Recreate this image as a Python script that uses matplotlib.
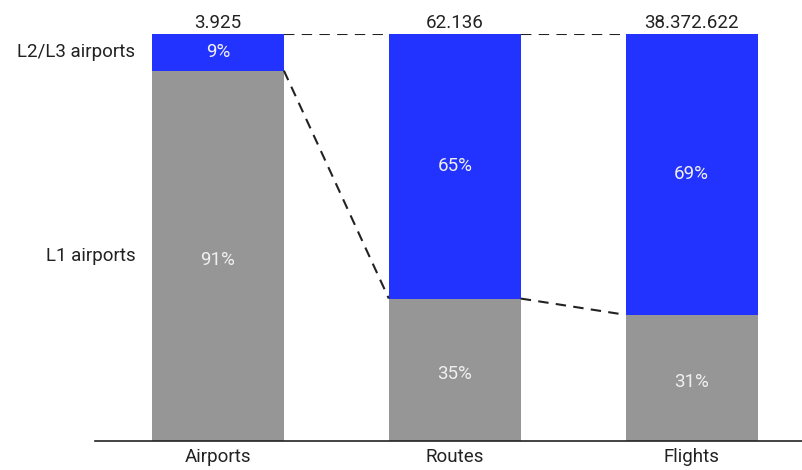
import matplotlib.pyplot as plt

plt.rcParams['font.family'] = ['Roboto', 'DejaVu Sans']

categories = ["Airports", "Routes", "Flights"]
totals = [3925, 62136, 38372622]
l1_pct = [91, 35, 31]
l23_pct = [9, 65, 69]
row_labels = ["L2/L3 airports", "L1 airports"]

gray = "#969696"
blue = "#2233ff"
width = 0.557
fs = 13.5

fig = plt.figure(figsize=(8.02, 4.70), dpi=100)
ax = fig.add_axes([95 / 802, 1 - 441 / 470, 1 - 95 / 802, (441 - 34) / 470])

x = list(range(len(categories)))
low = [p / 100 for p in l1_pct]
high = [p / 100 for p in l23_pct]
ax.bar(x, low, width, color=gray)
ax.bar(x, high, width, bottom=low, color=blue)

for i in x:
    ax.text(i, low[i] / 2 - 0.01, f"{l1_pct[i]}%", ha="center", va="center",
            color="#f0f0f0", fontsize=fs)
    ax.text(i, low[i] + high[i] / 2, f"{l23_pct[i]}%", ha="center", va="center",
            color="#f0f0f0", fontsize=fs)
    ax.text(i, 1.005, f"{totals[i]:,}".replace(",", "."), ha="center", va="bottom",
            color="#222222", fontsize=fs)

# dashed connectors between neighbouring bars
for i in range(len(x) - 1):
    x0, x1 = x[i] + width / 2, x[i + 1] - width / 2
    ax.plot([x0, x1], [low[i], low[i + 1]], ls=(0, (5, 3.5)), color="#222222", lw=1.5)
    ax.plot([x0, x1], [1, 1], ls=(0, (5, 3.5)), color="#222222", lw=1.5)

# row labels beside the first bar
ax.text(-width / 2 - 0.07, low[0] + high[0] / 2, row_labels[0], ha="right",
        va="center", fontsize=fs, color="#222222")
ax.text(-width / 2 - 0.07, low[0] / 2, row_labels[1], ha="right",
        va="center", fontsize=fs, color="#222222")

ax.set_xlim(-0.519, 2.466)
ax.set_ylim(0, 1)
ax.set_xticks(x)
ax.set_xticklabels(categories, fontsize=fs, color="#222222")
ax.tick_params(axis="x", length=0, pad=5)
ax.set_yticks([])
for side in ["top", "right", "left"]:
    ax.spines[side].set_visible(False)
ax.spines["bottom"].set_linewidth(1.2)
ax.spines["bottom"].set_color("#222222")

fig.savefig("out.png", dpi=100)
